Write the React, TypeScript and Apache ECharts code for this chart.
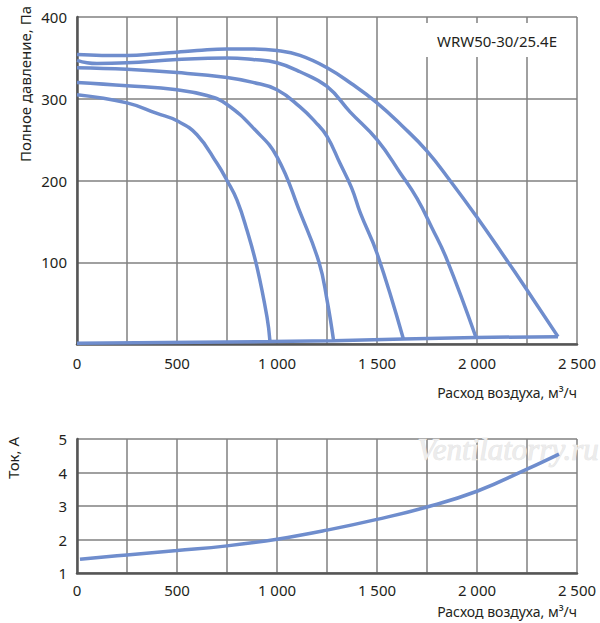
import { useEffect, useRef } from "react";
import * as echarts from "echarts";

// Airflow, m³/h -> total pressure, Pa (five fan speeds, top to bottom)
const speed1: [number, number][] = [
  [0, 354], [125, 353], [250, 353], [400, 355], [500, 357], [600, 359], [750, 361],
  [880, 361], [1000, 359], [1115, 353], [1250, 338], [1375, 318], [1500, 295],
  [1625, 267], [1750, 236], [1865, 200], [2000, 155], [2125, 111], [2250, 66], [2405, 9],
];
const speed2: [number, number][] = [
  [0, 347], [50, 344], [100, 343], [250, 344], [500, 348], [750, 350], [880, 348],
  [1000, 344], [1115, 333], [1250, 315], [1365, 284], [1500, 250], [1617, 209],
  [1700, 178], [1775, 142], [1850, 103], [1995, 8],
];
const speed3: [number, number][] = [
  [0, 338], [250, 336], [500, 332], [750, 326], [880, 320], [1000, 311], [1115, 290],
  [1190, 272], [1250, 254], [1315, 221], [1373, 191], [1417, 160], [1500, 111], [1632, 6],
];
const speed4: [number, number][] = [
  [0, 320], [250, 316], [500, 311], [650, 304], [750, 293], [890, 262],
  [1000, 229], [1117, 160], [1210, 100], [1250, 54], [1283, 4],
];
const speed5: [number, number][] = [
  [0, 305], [250, 295], [400, 282], [500, 273], [600, 256], [700, 221], [750, 200],
  [800, 176], [850, 139], [900, 94], [950, 33], [965, 3],
];
// free-blowing end points along the bottom
const endLine: [number, number][] = [
  [0, 1], [965, 3], [1283, 4], [1632, 6], [1995, 8], [2405, 9],
];
// Airflow -> current, A
const current: [number, number][] = [
  [15, 1.41], [250, 1.54], [500, 1.67], [750, 1.81], [1000, 2.01], [1250, 2.28],
  [1500, 2.6], [1750, 2.97], [2000, 3.44], [2250, 4.1], [2410, 4.55],
];

const model = "WRW50-30/25.4E";
const xName = "Расход воздуха, м³/ч";
const pressureName = "Полное давление, Па";
const currentName = "Ток, А";
const watermark = "Ventilatorry.ru";

const FONT = "Noto Sans";
const TEXT = "#231f20";
const BLUE = "#6f8dcd";

const fmtFlow = (v: number) =>
  v % 500 !== 0 ? "" : v >= 1000 ? `${Math.floor(v / 1000)} ${String(v % 1000).padStart(3, "0")}` : String(v);

function xAxisOf(gridIndex: number, margin: number) {
  return {
    type: "value",
    gridIndex,
    min: 0,
    max: 2500,
    interval: 250,
    axisLine: { show: true, onZero: false, lineStyle: { color: "#555", width: 2.5 } },
    axisTick: { show: false },
    splitLine: { show: true, lineStyle: { color: "#808080", width: 1.5 } },
    axisLabel: { margin, color: TEXT, fontFamily: FONT, fontSize: 15, formatter: fmtFlow },
  };
}

export default function App() {
  const ref = useRef<HTMLDivElement>(null);

  useEffect(() => {
    if (!ref.current) return;
    const chart = echarts.init(ref.current, undefined, { renderer: "svg" });
    const line = (data: [number, number][], xAxisIndex = 0, yAxisIndex = 0, smooth = 0.45) => ({
      type: "line",
      data,
      xAxisIndex,
      yAxisIndex,
      smooth,
      symbol: "none",
      lineStyle: { color: BLUE, width: 3.5 },
    });

    chart.setOption({
      animation: false,
      backgroundColor: "#fff",
      grid: [
        { left: 77, right: 23, top: 17, height: 327 },
        { left: 77, right: 23, top: 439, height: 134 },
      ],
      xAxis: [xAxisOf(0, 11), xAxisOf(1, 9)],
      yAxis: [
        {
          type: "value",
          gridIndex: 0,
          min: 0,
          max: 400,
          interval: 100,
          axisLine: { show: true, lineStyle: { color: "#555", width: 2.5 } },
          axisTick: { show: false },
          splitLine: { show: true, lineStyle: { color: "#808080", width: 1.5 } },
          axisLabel: {
            margin: 10, color: TEXT, fontFamily: FONT, fontSize: 15,
            formatter: (v: number) => (v === 0 ? "" : String(v)),
          },
        },
        {
          type: "value",
          gridIndex: 1,
          min: 1,
          max: 5,
          interval: 1,
          axisLine: { show: true, lineStyle: { color: "#555", width: 2.5 } },
          axisTick: { show: false },
          splitLine: { show: true, lineStyle: { color: "#808080", width: 1.5 } },
          axisLabel: { margin: 10, color: TEXT, fontFamily: FONT, fontSize: 15 },
        },
      ],
      graphic: [
        { type: "rect", z: 1, shape: { x: 421, y: 23, width: 150, height: 34 }, style: { fill: "#fff" } },
        {
          type: "text", z: 3, x: 497, y: 41,
          style: { text: model, fill: TEXT, font: `15px "${FONT}"`, textAlign: "center", textVerticalAlign: "middle" },
        },
        {
          type: "text", z: 1, x: 508, y: 449,
          style: {
            text: watermark, fill: "#ececec", stroke: "#dcdcdc", lineWidth: 0.6,
            font: `italic 31px "Liberation Serif"`, textAlign: "center", textVerticalAlign: "middle",
          },
        },
        {
          type: "text", x: 577, y: 392,
          style: { text: xName, fill: TEXT, font: `14px "${FONT}"`, textAlign: "right", textVerticalAlign: "middle" },
        },
        {
          type: "text", x: 577, y: 611,
          style: { text: xName, fill: TEXT, font: `14px "${FONT}"`, textAlign: "right", textVerticalAlign: "middle" },
        },
        {
          type: "text", x: 25, y: 84, rotation: Math.PI / 2,
          style: { text: pressureName, fill: TEXT, font: `15px "${FONT}"`, textAlign: "center", textVerticalAlign: "middle" },
        },
        {
          type: "text", x: 13, y: 458, rotation: Math.PI / 2,
          style: { text: currentName, fill: TEXT, font: `15px "${FONT}"`, textAlign: "center", textVerticalAlign: "middle" },
        },
      ],
      series: [
        line(speed1),
        line(speed2),
        line(speed3),
        line(speed4),
        line(speed5),
        line(endLine, 0, 0, 0),
        line(current, 1, 1),
      ],
    });

    return () => chart.dispose();
  }, []);

  return <div ref={ref} style={{ position: "fixed", left: 0, top: 0, width: 600, height: 623 }} />;
}
